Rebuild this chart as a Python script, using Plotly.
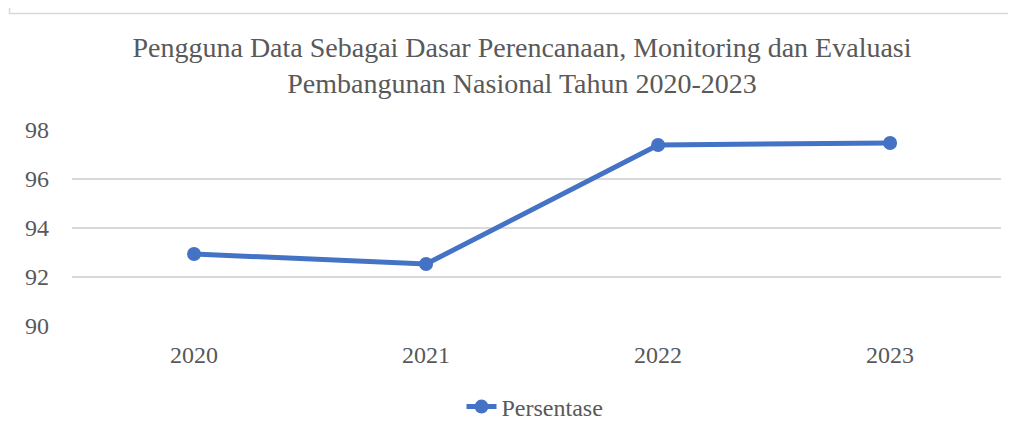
import plotly.graph_objects as go

years = ["2020", "2021", "2022", "2023"]
persentase = [92.94, 92.53, 97.39, 97.47]
y_ticks = [90, 92, 94, 96, 98]

# page body margin offsets the figure by 8px; work in screen pixels
OFF = 8
W, H = 1016 - 2 * OFF, 435 - 2 * OFF
L, R = 72 - OFF, 1001 - OFF
T, B = 130 - OFF, 326 - OFF
pw, ph = R - L, B - T

def px(x):
    return (x - OFF - L) / pw

def py(y):
    return (B - (y - OFF)) / ph

fig = go.Figure()
fig.add_trace(go.Scatter(
    x=years, y=persentase, mode="lines+markers", name="Persentase",
    line=dict(color="#4472C4", width=5),
    marker=dict(color="#4472C4", size=14),
))

font = "Liberation Serif, Times New Roman, serif"
fig.update_layout(
    width=W, height=H,
    margin=dict(l=L, r=W - R, t=T, b=H - B, pad=0, autoexpand=False),
    paper_bgcolor="white", plot_bgcolor="white",
    font=dict(family=font, color="#595959", size=24),
    title=dict(
        text="Pengguna Data Sebagai Dasar Perencanaan, Monitoring dan Evaluasi<br>Pembangunan Nasional Tahun 2020-2023",
        x=(522 - OFF) / W, xanchor="center", y=1 - (57 - OFF) / H, yanchor="middle",
        yref="container", xref="container",
        font=dict(family=font, size=28, color="#595959"),
    ),
    xaxis=dict(
        type="category", range=[-0.526, 3.478], showgrid=False,
        showline=False, ticks="", tickfont=dict(size=24), ticklabelstandoff=12,
    ),
    yaxis=dict(
        range=[90, 98], tickvals=y_ticks, showgrid=True, gridcolor="#D9D9D9",
        gridwidth=1.5, zeroline=False, showline=False, ticks="",
        tickfont=dict(size=24), ticklabelstandoff=22,
    ),
    showlegend=True,
    legend=dict(
        orientation="h", x=px(535), xanchor="center", y=py(407), yanchor="middle",
        font=dict(size=24, family=font, color="#595959"),
    ),
)

fig.add_shape(
    type="path", xref="paper", yref="paper",
    path=f"M {px(9.5)} {py(-20)} L {px(9.5)} {py(13.5)} L {px(1030)} {py(13.5)}",
    line=dict(color="#D9D9D9", width=1.5),
)

fig.write_html("out.html")
